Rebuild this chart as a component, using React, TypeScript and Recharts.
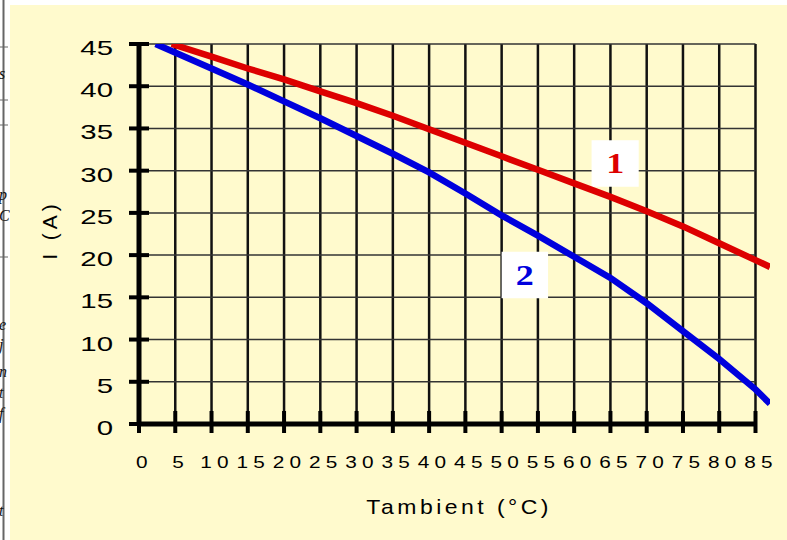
import React from "react";
import {
  LineChart,
  Line,
  XAxis,
  YAxis,
  ReferenceLine,
  ReferenceArea,
  Label,
} from "recharts";

// curve 1 (red)
const tempCurve1 = [4.5, 10, 15, 20, 25, 30, 35, 40, 45, 50, 55, 60, 65, 70, 75, 80, 85, 87];
const currentCurve1 = [45, 43.5, 42.1, 40.8, 39.4, 38.0, 36.5, 34.9, 33.3, 31.7, 30.1, 28.5, 26.9, 25.2, 23.4, 21.4, 19.4, 18.6];

// curve 2 (blue)
const tempCurve2 = [2.3, 10, 15, 20, 25, 30, 35, 40, 45, 50, 55, 60, 65, 70, 75, 80, 85, 87];
const currentCurve2 = [45, 42.1, 40.2, 38.2, 36.2, 34.1, 32.0, 29.8, 27.3, 24.7, 22.3, 19.8, 17.3, 14.3, 11.0, 7.7, 4.1, 2.4];

const xTicks = [0, 5, 10, 15, 20, 25, 30, 35, 40, 45, 50, 55, 60, 65, 70, 75, 80, 85];
const yTicks = [0, 5, 10, 15, 20, 25, 30, 35, 40, 45];

const xTitle = "Tambient (°C)";
const yTitle = "I (A)";

const curveLabels = [
  { text: "1", color: "#dd0000", x1: 62.4, x2: 68.9, y1: 28.1, y2: 33.6 },
  { text: "2", color: "#0000dd", x1: 50.0, x2: 56.4, y1: 14.9, y2: 20.4 },
];

const marginLetters = [
  { ch: "s", y: 79 },
  { ch: "p", y: 200 },
  { ch: "C", y: 221 },
  { ch: "e", y: 330 },
  { ch: "j", y: 350 },
  { ch: "n", y: 377 },
  { ch: "t", y: 398 },
  { ch: "f", y: 419 },
  { ch: "t", y: 516 },
];
const marginMarks = [47, 100, 125, 257];

const curve1 = tempCurve1.map((t, i) => ({ t, i: currentCurve1[i] }));
const curve2 = tempCurve2.map((t, i) => ({ t, i: currentCurve2[i] }));

const FONT = "'Liberation Sans', Arial, sans-serif";

const XTick = ({ x, y, payload }: any) => (
  <g>
    <line x1={x} x2={x} y1={y - 13} y2={y + 9} stroke="#000" strokeWidth={4} />
    <text
      transform={`translate(${x + 5.5},${y + 44}) scale(1.3,1)`}
      textAnchor="middle"
      fontSize={16}
      letterSpacing={4}
      fontFamily={FONT}
      fill="#000"
    >
      {payload.value}
    </text>
  </g>
);

const YTick = ({ x, y, payload }: any) => (
  <g>
    <line x1={x - 10} x2={x + 10} y1={y} y2={y} stroke="#000" strokeWidth={4} />
    <text
      transform={`translate(${x - 26},${y + 11}) scale(1.4,1)`}
      textAnchor="end"
      fontSize={21}
      fontFamily={FONT}
      fill="#000"
    >
      {payload.value}
    </text>
  </g>
);

export default function App() {
  return (
    <div
      style={{
        position: "fixed",
        left: 0,
        top: 0,
        width: 787,
        height: 540,
        background: "#fff",
        overflow: "hidden",
      }}
    >
      <svg width={12} height={540} style={{ position: "absolute", left: 0, top: 0 }}>
        <line x1={3.5} x2={3.5} y1={0} y2={540} stroke="#666" strokeWidth={2} />
        {marginMarks.map((m) => (
          <line key={m} x1={0} x2={8} y1={m} y2={m} stroke="#666" strokeWidth={1} />
        ))}
        {marginLetters.map((l, k) => (
          <text
            key={k}
            x={-1}
            y={l.y}
            fontSize={16}
            fontStyle="italic"
            fontFamily="'Liberation Serif', 'Times New Roman', serif"
            fill="#111"
          >
            {l.ch}
          </text>
        ))}
      </svg>
      <div
        style={{
          position: "absolute",
          left: 10,
          top: 5,
          width: 777,
          height: 535,
          background: "#fffacd",
        }}
      >
        <LineChart width={777} height={535} margin={{ top: 39, right: 17, bottom: 56, left: 69 }}>
          <XAxis
            type="number"
            dataKey="t"
            domain={[0, 87]}
            ticks={xTicks}
            interval={0}
            axisLine={false}
            tickLine={false}
            tickSize={0}
            tickMargin={0}
            tick={<XTick />}
            height={60}
            allowDataOverflow
            label={
              <Label
                content={({ viewBox }: any) => (
                  <text
                    transform={`translate(${viewBox.x + 320},${viewBox.y + 90}) scale(1.15,1)`}
                    textAnchor="middle"
                    fontSize={20}
                    letterSpacing={3}
                    fontFamily={FONT}
                    fill="#000"
                  >
                    {xTitle}
                  </text>
                )}
              />
            }
          />
          <YAxis
            type="number"
            domain={[0, 45]}
            ticks={yTicks}
            interval={0}
            axisLine={{ stroke: "#000", strokeWidth: 5 }}
            tickLine={false}
            tickSize={0}
            tickMargin={0}
            tick={<YTick />}
            width={60}
            allowDataOverflow
            label={
              <Label
                content={({ viewBox }: any) => (
                  <text
                    transform={`translate(${viewBox.x - 30},${viewBox.y + 186}) rotate(-90)`}
                    textAnchor="middle"
                    dominantBaseline="central"
                    fontSize={21}
                    letterSpacing={4}
                    fontFamily={FONT}
                    fill="#000"
                  >
                    {yTitle}
                  </text>
                )}
              />
            }
          />
          {xTicks
            .filter((v) => v > 0)
            .map((v) => (
              <ReferenceLine key={`v${v}`} x={v} stroke="#111" strokeWidth={2.5} zIndex={-50} />
            ))}
          {yTicks
            .filter((v) => v > 0)
            .map((v) => (
              <ReferenceLine
                key={`h${v}`}
                segment={[
                  { x: 0, y: v },
                  { x: 85, y: v },
                ]}
                stroke="#333"
                strokeWidth={1.5}
                zIndex={-50}
              />
            ))}
          <ReferenceLine
            segment={[
              { x: 0, y: 0 },
              { x: 85, y: 0 },
            ]}
            stroke="#000"
            strokeWidth={5}
            zIndex={-40}
          />
          {curveLabels.map((c) => (
            <ReferenceArea
              key={c.text}
              x1={c.x1}
              x2={c.x2}
              y1={c.y1}
              y2={c.y2}
              fill="#fff"
              fillOpacity={1}
              stroke="none"
              zIndex={-30}
              label={
                <Label
                  content={({ viewBox }: any) => (
                    <text
                      transform={`translate(${viewBox.x + viewBox.width / 2},${viewBox.y + viewBox.height / 2 + 10}) scale(1.2,1)`}
                      textAnchor="middle"
                      fontSize={30}
                      fontWeight="bold"
                      fontFamily="'Liberation Serif', 'Times New Roman', serif"
                      fill={c.color}
                    >
                      {c.text}
                    </text>
                  )}
                />
              }
            />
          ))}
          <Line
            data={curve1}
            dataKey="i"
            type="linear"
            stroke="#dd0000"
            strokeWidth={6.5}
            dot={false}
            isAnimationActive={false}
            zIndex={1000}
          />
          <Line
            data={curve2}
            dataKey="i"
            type="linear"
            stroke="#0000dd"
            strokeWidth={6.5}
            dot={false}
            isAnimationActive={false}
            zIndex={1000}
          />
        </LineChart>
      </div>
    </div>
  );
}
